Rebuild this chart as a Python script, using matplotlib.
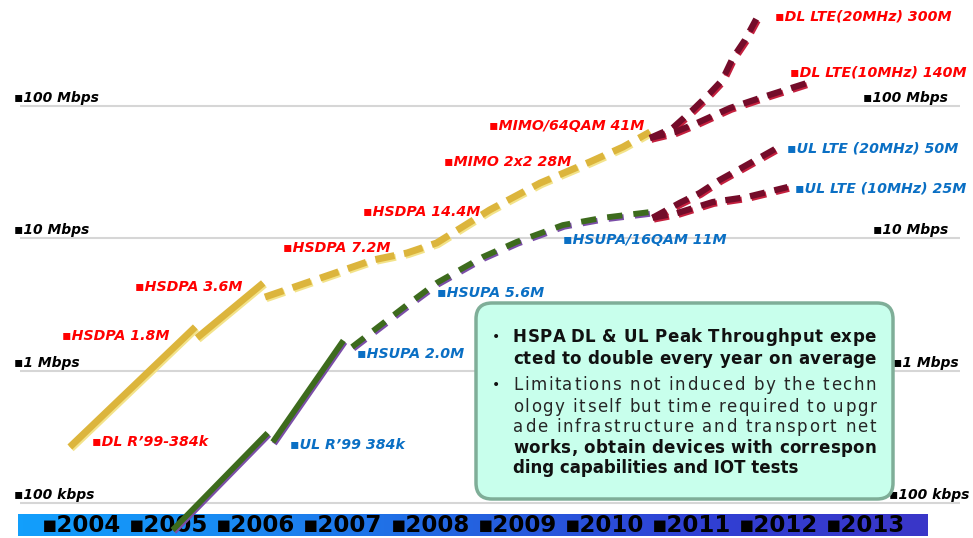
import matplotlib
matplotlib.use("Agg")
import matplotlib.pyplot as plt
import matplotlib.patheffects as pe
from matplotlib.patches import FancyBboxPatch
from matplotlib.colors import LinearSegmentedColormap
import numpy as np

plt.rcParams['lines.scale_dashes'] = False

# ---------------- data ----------------
years = [2004, 2005, 2006, 2007, 2008, 2009, 2010, 2011, 2012, 2013]
grid_values = [0.1, 1, 10, 100]
grid_labels = ["100 kbps", "1 Mbps", "10 Mbps", "100 Mbps"]

# Downlink (HSPA evolution)
dl_r99_year = [2004.32, 2005.76]
dl_r99_mbps = [0.265, 2.14]
dl_hsdpa_year = [2005.78, 2006.54]
dl_hsdpa_mbps = [1.77, 4.60]
dl_evo_year = [2006.56, 2007.80, 2008.19, 2008.53, 2009.14, 2009.72, 2010.29, 2010.67, 2010.98]
dl_evo_mbps = [3.60, 6.86, 7.75, 9.22, 16.4, 26.2, 37.8, 49.0, 63.6]

# Uplink (HSUPA evolution)
ul_r99_year = [2005.50, 2006.59]
ul_r99_mbps = [0.0625, 0.338]
ul_hsupa_year = [2006.65, 2007.46]
ul_hsupa_mbps = [0.289, 1.69]
ul_evo_year = [2007.56, 2008.19, 2008.53, 2009.06, 2009.45, 2009.98, 2010.44, 2010.98]
ul_evo_mbps = [1.51, 3.14, 4.60, 7.23, 9.4, 12.6, 14.3, 15.8]

# LTE
dl_lte20_year = [2010.98, 2011.24, 2011.47, 2011.67, 2011.81, 2011.93, 2012.07, 2012.20]
dl_lte20_mbps = [57.3, 68.2, 93.3, 125.4, 157, 230, 315, 454]
dl_lte10_year = [2010.98, 2011.27, 2011.52, 2011.90, 2012.28, 2012.78]
dl_lte10_mbps = [57.3, 63.6, 74.4, 96.6, 117, 149]
ul_lte20_year = [2011.01, 2011.32, 2011.55, 2011.78, 2012.05, 2012.50]
ul_lte20_mbps = [14.3, 18.5, 22.0, 27.6, 34.6, 50.8]
ul_lte10_year = [2011.01, 2011.29, 2011.70, 2012.09, 2012.56]
ul_lte10_mbps = [14.3, 15.5, 18.8, 20.5, 24.4]

dl_labels = ["DL R\u201999-384k", "HSDPA 1.8M", "HSDPA 3.6M", "HSDPA 7.2M", "HSDPA 14.4M",
             "MIMO 2x2 28M", "MIMO/64QAM 41M", "DL LTE(20MHz) 300M", "DL LTE(10MHz) 140M"]
ul_labels = ["UL R\u201999 384k", "HSUPA 2.0M", "HSUPA 5.6M", "HSUPA/16QAM 11M",
             "UL LTE (20MHz) 50M", "UL LTE (10MHz) 25M"]

note_lines = [
    ("HSPA DL & UL Peak Throughput expe", "bold", True, True),
    ("cted to double every year on average", "bold", False, True),
    ("Limitations not induced by the techn", "normal", True, True),
    ("ology itself but time required to upgr", "normal", False, True),
    ("ade infrastructure and transport net", "normal", False, True),
    ("works, obtain devices with correspon", "bold", False, True),
    ("ding capabilities and IOT tests", "bold", False, False),
]

# ---------------- layout ----------------
W, H = 973, 538
fig = plt.figure(figsize=(W / 100, H / 100), dpi=100)
fig.patch.set_facecolor("white")

PX0, PXS = 42.0, 87.1          # pixel of year 2004, pixels per year
PY0, PYS = 503.0, 132.33       # pixel of 0.1 Mbps, pixels per decade


def px_year(px):
    return 2004 + (px - PX0) / PXS


def py_val(py):
    return 0.1 * 10 ** ((PY0 - py) / PYS)


XLIM = (px_year(0), px_year(W))
YLIM = (py_val(H), py_val(0))

# background axes (pixel y) for the year band
bg = fig.add_axes([0, 0, 1, 1])
bg.set_xlim(*XLIM)
bg.set_ylim(H, 0)
bg.axis("off")
band_cmap = LinearSegmentedColormap.from_list(
    "band", ["#129ffc", "#1a88f2", "#2462e0", "#3040d4", "#3a36c8"])
grad = np.linspace(0, 1, 256)[None, :]
bg.imshow(grad, extent=[px_year(18), px_year(928), 536, 514], aspect="auto",
          cmap=band_cmap, zorder=0, interpolation="bilinear")
for yr in years:
    bg.text(yr, 526, "\u25aa" + str(yr), ha="left", va="center",
            fontsize=16.5, fontweight="bold", family="DejaVu Sans",
            color="black", zorder=1)

# main data axes
ax = fig.add_axes([0, 0, 1, 1])
ax.patch.set_alpha(0)
ax.set_yscale("log")
ax.set_xlim(*XLIM)
ax.set_ylim(*YLIM)
ax.axis("off")

ax.hlines(grid_values, px_year(20), px_year(960), color="#d6d6d6", lw=1.5, zorder=1)
left_lab_px = 14
right_lab_px = [889, 893, 873, 863]
for v, lab, rp in zip(grid_values, grid_labels, right_lab_px):
    for xp in (left_lab_px, rp):
        ax.text(px_year(xp), v * 1.02, "\u25aa" + lab, ha="left", va="bottom",
                fontsize=10, fontweight="bold", style="italic", color="black", zorder=2)


def draw(xs, ys, color, shadow, dashes=None, lw=5.0):
    kw = dict(color=color, lw=lw, solid_capstyle="butt", dash_capstyle="butt", zorder=3,
              path_effects=[pe.SimpleLineShadow(offset=(1.0, -1.2), shadow_color=shadow, alpha=1.0),
                            pe.Normal()])
    if dashes is not None:
        kw["linestyle"] = (0, dashes)
    ax.plot(xs, ys, **kw)


GOLD, GOLD_SH = "#dcb53c", "#f3e38a"
GREEN, GREEN_SH = "#3d6b1d", "#7b4ea8"
MAROON, MAROON_SH = "#740c2a", "#c4203e"

draw(dl_r99_year, dl_r99_mbps, GOLD, GOLD_SH)
draw(dl_hsdpa_year, dl_hsdpa_mbps, GOLD, GOLD_SH)
draw(dl_evo_year, dl_evo_mbps, GOLD, GOLD_SH, dashes=(14, 7))
draw(ul_r99_year, ul_r99_mbps, GREEN, GREEN_SH, lw=4.2)
draw(ul_hsupa_year, ul_hsupa_mbps, GREEN, GREEN_SH, lw=4.2)
draw(ul_evo_year, ul_evo_mbps, GREEN, GREEN_SH, dashes=(11, 8), lw=4.2)
for xs, ys in [(dl_lte20_year, dl_lte20_mbps), (dl_lte10_year, dl_lte10_mbps),
               (ul_lte20_year, ul_lte20_mbps), (ul_lte10_year, ul_lte10_mbps)]:
    draw(xs, ys, MAROON, MAROON_SH, dashes=(11, 7), lw=4.5)

# overlay axes (pixel coords) for annotations
ov = fig.add_axes([0, 0, 1, 1])
ov.patch.set_alpha(0)
ov.set_xlim(0, W)
ov.set_ylim(H, 0)
ov.axis("off")

dl_label_pos = [(92, 442), (62, 336), (135, 287), (283, 248), (363, 212),
                (444, 162), (489, 126), (775, 16), (790, 73)]
ul_label_pos = [(290, 445), (357, 354), (437, 293), (563, 240), (787, 149), (795, 189)]
for lab, (x, y) in zip(dl_labels, dl_label_pos):
    ov.text(x, y, "\u25aa" + lab, ha="left", va="center", fontsize=10.2,
            fontweight="bold", style="italic", color="#ff0000", zorder=5)
for lab, (x, y) in zip(ul_labels, ul_label_pos):
    ov.text(x, y, "\u25aa" + lab, ha="left", va="center", fontsize=10.2,
            fontweight="bold", style="italic", color="#0a6fc4", zorder=5)

box = FancyBboxPatch((476, 303), 417, 196, boxstyle="round,pad=0,rounding_size=16",
                     facecolor="#c8ffec", edgecolor="#7fae98", lw=2.5, zorder=6)
ov.add_patch(box)

renderer = fig.canvas.get_renderer()


def text_width(s, **kw):
    t = ov.text(0, 0, s, **kw)
    w = t.get_window_extent(renderer=renderer).width
    t.remove()
    return w


TX0, TX1 = 513, 876
line_y = [337, 359, 385, 407, 427, 448, 468]
for (txt, wt, bullet, justify), y in zip(note_lines, line_y):
    kw = dict(fontsize=12, fontweight=wt, ha="left", va="center",
              color="#111111" if wt == "bold" else "#262626", zorder=7)
    if justify:
        bar = text_width("|", **kw)
        full = text_width(txt + "|", **kw) - bar
        extra = (TX1 - TX0 - full) / (len(txt) - 1)
        for i, ch in enumerate(txt):
            if ch == " ":
                continue
            off = text_width(txt[:i] + "|", **kw) - bar if i else 0.0
            ov.text(TX0 + off + i * extra, y, ch, **kw)
    else:
        ov.text(TX0, y, txt, **kw)
    if bullet:
        ov.text(496, y, "\u2022", ha="center", va="center", fontsize=10,
                color="#111111", zorder=7)

fig.savefig("out.png", dpi=100, facecolor="white")
